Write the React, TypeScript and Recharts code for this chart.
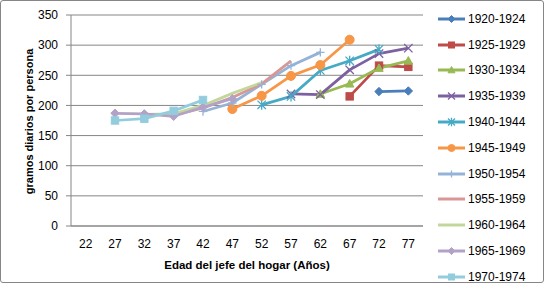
import React from "react";
import { CartesianGrid, Line, LineChart, XAxis, YAxis } from "recharts";

// Edad del jefe del hogar (categories)
const ages = [22, 27, 32, 37, 42, 47, 52, 57, 62, 67, 72, 77];
const yTicks = [0, 50, 100, 150, 200, 250, 300, 350];

const n = null;
// gramos diarios por persona, one array per birth cohort (aligned to ages)
const c1920 = [n, n, n, n, n, n, n, n, n, n, 223, 224];
const c1925 = [n, n, n, n, n, n, n, n, n, 215, 266, 264];
const c1930 = [n, n, n, n, n, n, n, n, 219, 236, 262, 274];
const c1935 = [n, n, n, n, n, n, n, 219, 218, 259, 286, 295];
const c1940 = [n, n, n, n, n, n, 201, 215, 258, 274, 293, n];
const c1945 = [n, n, n, n, n, 194, 216, 249, 267, 309, n, n];
const c1950 = [n, n, n, n, 190, 204, 235, 266, 288, n, n, n];
const c1955 = [n, n, n, 184, 196, 213, 236, 274, n, n, n, n];
const c1960 = [n, n, 185, 186, 200, 220, 238, n, n, n, n, n];
const c1965 = [n, 187, 186, 182, 197, 211, n, n, n, n, n, n];
const c1970 = [n, 175, 178, 191, 209, n, n, n, n, n, n, n];

type Shape = "diamond" | "square" | "triangle" | "x" | "star" | "circle" | "plus" | "none";

interface SeriesConfig {
  key: string;
  name: string;
  color: string;
  shape: Shape;
  values: (number | null)[];
}

const series: SeriesConfig[] = [
  { key: "c1920", name: "1920-1924", color: "#4A7EBB", shape: "diamond", values: c1920 },
  { key: "c1925", name: "1925-1929", color: "#BE4B48", shape: "square", values: c1925 },
  { key: "c1930", name: "1930-1934", color: "#98B954", shape: "triangle", values: c1930 },
  { key: "c1935", name: "1935-1939", color: "#7D60A0", shape: "x", values: c1935 },
  { key: "c1940", name: "1940-1944", color: "#46AAC5", shape: "star", values: c1940 },
  { key: "c1945", name: "1945-1949", color: "#F79646", shape: "circle", values: c1945 },
  { key: "c1950", name: "1950-1954", color: "#95B3D7", shape: "plus", values: c1950 },
  { key: "c1955", name: "1955-1959", color: "#D99694", shape: "none", values: c1955 },
  { key: "c1960", name: "1960-1964", color: "#C3D69B", shape: "none", values: c1960 },
  { key: "c1965", name: "1965-1969", color: "#B3A2C7", shape: "diamond", values: c1965 },
  { key: "c1970", name: "1970-1974", color: "#93CDDD", shape: "square", values: c1970 },
];

const data = ages.map((age, i) => {
  const row: Record<string, number | null> = { age };
  series.forEach((s) => {
    row[s.key] = s.values[i];
  });
  return row;
});

// tick marks sit between the categories, like a category axis
const boundaries = [...ages.map((a) => a - 2.5), ages[ages.length - 1] + 2.5];

const FONT = "'Liberation Sans', Arial, sans-serif";
const GRAY = "#868686";

function Marker({ shape, cx, cy, color, r }: { shape: Shape; cx: number; cy: number; color: string; r: number }) {
  switch (shape) {
    case "diamond":
      return <path d={`M${cx},${cy - r}L${cx + r},${cy}L${cx},${cy + r}L${cx - r},${cy}Z`} fill={color} stroke={color} />;
    case "square":
      return <rect x={cx - r + 0.5} y={cy - r + 0.5} width={2 * r - 1} height={2 * r - 1} fill={color} stroke={color} />;
    case "triangle":
      return <path d={`M${cx},${cy - r}L${cx + r},${cy + r * 0.8}L${cx - r},${cy + r * 0.8}Z`} fill={color} stroke={color} />;
    case "x":
      return (
        <path d={`M${cx - r},${cy - r}L${cx + r},${cy + r}M${cx + r},${cy - r}L${cx - r},${cy + r}`} stroke={color} strokeWidth={1.3} />
      );
    case "star":
      return (
        <path
          d={`M${cx - r},${cy - r}L${cx + r},${cy + r}M${cx + r},${cy - r}L${cx - r},${cy + r}M${cx},${cy - r * 1.2}L${cx},${cy + r * 1.2}`}
          stroke={color}
          strokeWidth={1.3}
        />
      );
    case "circle":
      return <circle cx={cx} cy={cy} r={r} fill={color} stroke={color} />;
    case "plus":
      return <path d={`M${cx - r},${cy}L${cx + r},${cy}M${cx},${cy - r}L${cx},${cy + r}`} stroke={color} strokeWidth={1.3} />;
    default:
      return null;
  }
}

function Legend() {
  return (
    <div style={{ position: "absolute", left: 436, top: 6, fontFamily: FONT, fontSize: 12, color: "#000" }}>
      {series.map((s) => (
        <div key={s.key} style={{ height: 25.8, display: "flex", alignItems: "center" }}>
          <svg width={32} height={14}>
            <line x1={2} x2={29} y1={7} y2={7} stroke={s.color} strokeWidth={3} />
            <Marker shape={s.shape} cx={15.5} cy={7} color={s.color} r={3.5} />
          </svg>
          <span>{s.name}</span>
        </div>
      ))}
    </div>
  );
}

export default function App() {
  return (
    <div style={{ position: "absolute", left: 0, top: 0, width: 544, height: 288, background: "#fff" }}>
      <div
        style={{
          position: "absolute",
          left: 0,
          top: 0,
          width: 542,
          height: 281,
          border: `1px solid ${GRAY}`,
          borderRadius: 3,
        }}
      />
      <LineChart width={544} height={288} data={data} margin={{ top: 15, right: 121, bottom: 6, left: 0 }}>
        <CartesianGrid vertical={false} stroke={GRAY} />
        <XAxis
          xAxisId="bounds"
          type="number"
          dataKey="age"
          domain={[19.5, 79.5]}
          ticks={boundaries}
          tickFormatter={() => ""}
          axisLine={false}
          tickSize={5}
          tickLine={{ stroke: GRAY }}
          height={0}
        />
        <XAxis
          type="number"
          dataKey="age"
          domain={[19.5, 79.5]}
          ticks={ages}
          interval={0}
          axisLine={{ stroke: GRAY }}
          tickLine={false}
          tickSize={5}
          tickMargin={8}
          tick={{ fill: "#000", fontSize: 12, fontFamily: FONT }}
          height={56}
          label={{
            content: ({ viewBox }: any) => (
              <text
                x={viewBox.x + viewBox.width / 2}
                y={viewBox.y + 43}
                textAnchor="middle"
                fontFamily={FONT}
                fontWeight="bold"
                fontSize={11.5}
                fill="#000"
              >
                Edad del jefe del hogar (Años)
              </text>
            ),
          }}
        />
        <YAxis
          domain={[0, 350]}
          ticks={yTicks}
          interval={0}
          width={71}
          axisLine={{ stroke: GRAY }}
          tickLine={{ stroke: GRAY }}
          tickSize={5}
          tickMargin={8}
          tick={{ fill: "#000", fontSize: 12, fontFamily: FONT }}
          label={{
            content: ({ viewBox }: any) => {
              const x = viewBox.x + 29;
              const y = viewBox.y + viewBox.height / 2 + 1;
              return (
                <text
                  x={x}
                  y={y}
                  transform={`rotate(-90 ${x} ${y})`}
                  textAnchor="middle"
                  dominantBaseline="central"
                  fontFamily={FONT}
                  fontWeight="bold"
                  fontSize={11}
                  fill="#000"
                >
                  gramos diarios por persona
                </text>
              );
            },
          }}
        />
        {series.map((s) => (
          <Line
            key={s.key}
            dataKey={s.key}
            name={s.name}
            stroke={s.color}
            strokeWidth={2.75}
            strokeLinejoin="round"
            isAnimationActive={false}
            activeDot={false}
            dot={(p: any) =>
              p.cx == null || p.cy == null || p.value == null ? (
                <g key={`${s.key}-${p.index}`} />
              ) : (
                <g key={`${s.key}-${p.index}`}>
                  <Marker shape={s.shape} cx={p.cx} cy={p.cy} color={s.color} r={s.shape === "circle" ? 4.5 : 4.2} />
                </g>
              )
            }
          />
        ))}
      </LineChart>
      <Legend />
    </div>
  );
}
